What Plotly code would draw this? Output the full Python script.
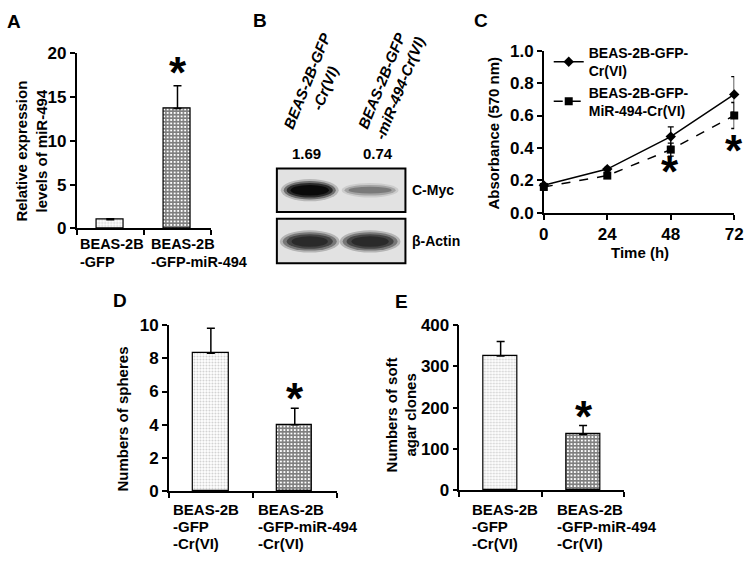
import plotly.graph_objects as go

W, H = 755, 567

# ---- data ----
a_groups = [["BEAS-2B", "-GFP"], ["BEAS-2B", "-GFP-miR-494"]]
a_values = [1.0, 13.7]
a_errors = [0.1, 2.6]

b_lanes = ["BEAS-2B-GFP<br>-Cr(VI)", "BEAS-2B-GFP<br>-miR-494-Cr(VI)"]
b_ratios = ["1.69", "0.74"]
b_proteins = ["C-Myc", "β-Actin"]

c_time = [0, 24, 48, 72]
c_ctrl = [0.17, 0.27, 0.47, 0.73]
c_ctrl_err = [0.01, 0.01, 0.06, 0.11]
c_mir = [0.16, 0.23, 0.39, 0.60]
c_mir_err = [0.02, 0.01, 0.04, 0.08]
c_names = ["BEAS-2B-GFP-<br>Cr(VI)", "BEAS-2B-GFP-<br>MiR-494-Cr(VI)"]

de_groups = [["BEAS-2B", "-GFP", "-Cr(VI)"], ["BEAS-2B", "-GFP-miR-494", "-Cr(VI)"]]
d_values = [8.3, 4.0]
d_errors = [1.5, 1.0]
e_values = [325, 135]
e_errors = [35, 22]

FONT = "Liberation Sans"


def px(x):
    return x / W


def py(y):
    return 1 - y / H


def bold(size, **kw):
    return dict(family=FONT, size=size, color="black", weight="bold", **kw)


fig = go.Figure()
annotations = []
shapes = []


def text(x, y, s, size=15, xanchor="center", yanchor="middle", angle=0, **kw):
    annotations.append(dict(
        x=px(x), y=py(y), xref="paper", yref="paper", text=s, showarrow=False,
        xanchor=xanchor, yanchor=yanchor, textangle=angle, font=bold(size, **kw),
    ))


# 柱子填充图案：对照为浅色点状，miR-494 为深色网格
light = dict(shape=".", fgcolor="#a0a0a0", bgcolor="white", size=3, solidity=0.35, fillmode="overlay")
dark = dict(shape="+", fgcolor="black", bgcolor="white", size=3.5, solidity=0.7, fillmode="overlay")


def bar_panel(idx, values, errors, width):
    xa = "x" if idx == 1 else f"x{idx}"
    ya = "y" if idx == 1 else f"y{idx}"
    for i in range(2):
        fig.add_trace(go.Bar(
            x=[i], y=[values[i]], width=width, xaxis=xa, yaxis=ya,
            marker=dict(color="white", line=dict(color="black", width=1.2),
                        pattern=light if i == 0 else dark),
            error_y=dict(type="data", array=[errors[i]], arrayminus=[0], symmetric=False,
                         color="black", thickness=1.5, width=4),
            showlegend=False,
        ))


# ---- A ----
bar_panel(1, a_values, a_errors, 0.4)
# ---- D ----
bar_panel(3, d_values, d_errors, 0.42)
# ---- E ----
bar_panel(4, e_values, e_errors, 0.41)

# ---- C ----
fig.add_trace(go.Scatter(
    x=c_time, y=c_ctrl, xaxis="x2", yaxis="y2", name=c_names[0], mode="lines+markers",
    line=dict(color="black", width=1.5), marker=dict(symbol="diamond", size=8, color="black"),
    error_y=dict(type="data", array=c_ctrl_err, color="black", thickness=1.3, width=3),
    cliponaxis=False,
))
fig.add_trace(go.Scatter(
    x=c_time, y=c_mir, xaxis="x2", yaxis="y2", name=c_names[1], mode="lines+markers",
    line=dict(color="black", width=1.5, dash="dash"), marker=dict(symbol="square", size=8, color="black"),
    error_y=dict(type="data", array=c_mir_err, color="black", thickness=1.3, width=3),
    cliponaxis=False,
))

axis_common = dict(showline=True, linecolor="black", linewidth=1.5, showgrid=False, zeroline=False,
                   ticks="outside", ticklen=5, tickcolor="black", tickwidth=1.5,
                   tickfont=bold(17))
cat_x = dict(range=[-0.5, 1.5], tickvals=[-0.5, 0.5, 1.5], showticklabels=False, **axis_common)

fig.update_layout(
    width=W, height=H, margin=dict(l=0, r=0, t=0, b=0),
    paper_bgcolor="white", plot_bgcolor="white", bargap=0,
    xaxis=dict(domain=[px(73), px(210)], anchor="y", **cat_x),
    yaxis=dict(domain=[py(227), py(46)], anchor="x", range=[0, 20], tickvals=[0, 5, 10, 15, 20], **axis_common),
    xaxis2=dict(domain=[px(549), px(743)], anchor="y2", range=[0, 72], tickvals=c_time, **axis_common),
    yaxis2=dict(domain=[py(211), py(43)], anchor="x2", range=[0, 1.0], tickvals=[0, 0.2, 0.4, 0.6, 0.8, 1.0],
                tickformat=".1f", **axis_common),
    xaxis3=dict(domain=[px(167), px(338)], anchor="y3", **cat_x),
    yaxis3=dict(domain=[py(499), py(327)], anchor="x3", range=[0, 10], tickvals=[0, 2, 4, 6, 8, 10], **axis_common),
    xaxis4=dict(domain=[px(463), px(631)], anchor="y4", **cat_x),
    yaxis4=dict(domain=[py(498), py(327)], anchor="x4", range=[0, 400], tickvals=[0, 100, 200, 300, 400], **axis_common),
    legend=dict(x=px(554), y=py(29), xanchor="left", yanchor="top", bgcolor="rgba(0,0,0,0)",
                font=bold(14), tracegroupgap=2, itemwidth=30),
)

# panel letters
for lbl, x, y in [("A", 9, 13), ("B", 260, 12), ("C", 485, 12), ("D", 117, 302), ("E", 404, 303)]:
    text(x, y, lbl, size=19)

# ---- A labels ----
text(27, 147, "Relative expression<br>levels of miR-494", size=15, angle=-90)
for lines, x in zip(a_groups, [74, 147]):
    for k, ln in enumerate(lines):
        text(x, 243 + 19 * k, ln, size=14.5, xanchor="left")
text(176, 66, "*", size=44)

# ---- B western blot ----
for lbl, x in zip(b_lanes, [317, 393]):
    text(x, 78, lbl, size=15, angle=-68, style="italic")
for r, x in zip(b_ratios, [307, 380]):
    text(x, 150, r, size=15)
for prot, y in zip(b_proteins, [187, 240]):
    text(413, y, prot, size=14, xanchor="left")
shapes.append(dict(type="rect", xref="paper", yref="paper", x0=px(277), x1=px(408), y0=py(210), y1=py(165),
                   line=dict(color="black", width=2), fillcolor="#e2e2e2"))
shapes.append(dict(type="rect", xref="paper", yref="paper", x0=px(277), x1=px(408), y0=py(263), y1=py(217),
                   line=dict(color="black", width=2), fillcolor="#e2e2e2"))
# 条带：由外到内叠加椭圆模拟模糊
bands = [
    (281, 340, 176, 199, "#b8b8b8"), (284, 337, 178, 197, "#6e6e6e"),
    (287, 334, 180, 195, "#2a2a2a"), (291, 330, 182, 193, "#0a0a0a"),
    (343, 401, 180, 195, "#cccccc"), (346, 398, 182, 193, "#a4a4a4"),
    (350, 394, 184, 191, "#7a7a7a"),
    (280, 341, 229, 252, "#b4b4b4"), (283, 338, 231, 250, "#777777"),
    (287, 334, 233, 248, "#444444"), (292, 329, 235, 246, "#2a2a2a"),
    (341, 403, 229, 252, "#b4b4b4"), (344, 400, 231, 250, "#777777"),
    (348, 396, 233, 248, "#444444"), (353, 391, 235, 246, "#2a2a2a"),
]
for x0, x1, y0, y1, col in bands:
    shapes.append(dict(type="circle", xref="paper", yref="paper", x0=px(x0), x1=px(x1), y0=py(y1), y1=py(y0),
                       line=dict(width=0), fillcolor=col))

# ---- C labels ----
text(498, 128, "Absorbance (570 nm)", size=15, angle=-90)
text(647, 252, "Time (h)", size=15)
text(678, 168, "*", size=44)
text(743, 146, "*", size=44)

# ---- D labels ----
text(120, 424, "Numbers of spheres", size=15, angle=-90)
text(295, 403, "*", size=44)
# ---- E labels ----
text(404, 420, "Numbers of soft<br>agar clones", size=15, angle=-90)
text(590, 422, "*", size=44)

for lines, xs in [(de_groups[0], (169, 474)), (de_groups[1], (256, 560))]:
    for k, ln in enumerate(lines):
        text(xs[0], 518 + 17.5 * k, ln, size=15, xanchor="left")
        text(xs[1], 518 + 17.5 * k, ln, size=15, xanchor="left")

fig.update_layout(annotations=annotations, shapes=shapes)
fig.write_html("out.html", config={"displayModeBar": False},
               post_script="document.body.style.margin='0';document.body.style.overflow='hidden';")
